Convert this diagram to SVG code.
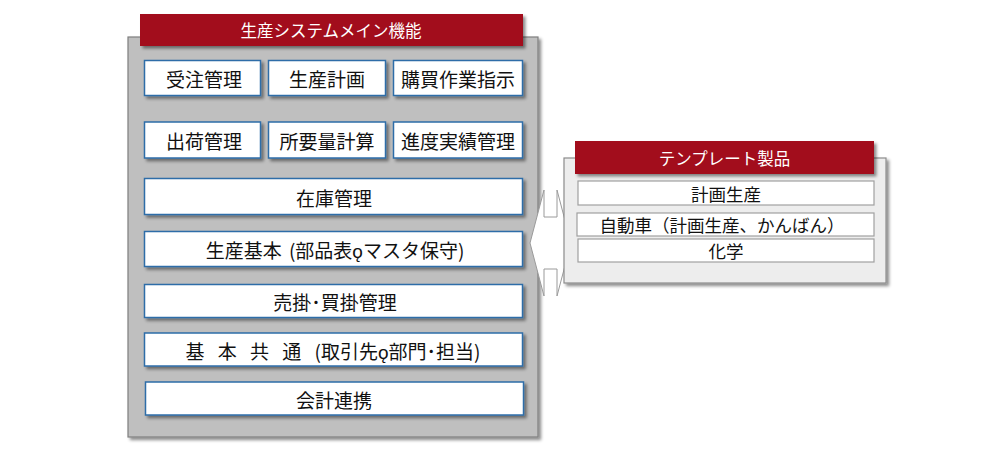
<svg xmlns="http://www.w3.org/2000/svg" width="1000" height="452" viewBox="0 0 1000 452">
<defs>
<filter id="sh" x="-10%" y="-10%" width="130%" height="130%">
<feDropShadow dx="2.5" dy="2.5" stdDeviation="1.6" flood-color="#000" flood-opacity="0.45"/>
</filter>
<style>
text{font-family:"Noto Sans CJK JP","Liberation Sans",sans-serif;text-anchor:middle;dominant-baseline:central}
.box{fill:#fff;stroke:#2E6DA8;stroke-width:1.5;filter:url(#sh)}
.t{font-size:19px;fill:#111}
.title{fill:#A20C1E;filter:url(#sh)}
.tt{font-size:16.5px;fill:#fff}
.rb{fill:#fff;stroke:#A0A0A0;stroke-width:1.2}
.rt{font-size:17.5px;fill:#111}
</style>
</defs>
<g id="main-panel">
<rect x="128" y="37" width="410" height="400" fill="#BFBFBF" stroke="#7F7F7F" stroke-width="1.2" filter="url(#sh)"/>
</g>
<g id="main-title">
<rect class="title" x="140" y="14" width="383" height="32"/>
<text class="tt" x="331" y="30">生産システムメイン機能</text>
</g>
<g id="n-juchu"><rect class="box" x="144.5" y="60.5" width="116" height="35"/><text class="t" x="204" y="78">受注管理</text></g>
<g id="n-keikaku"><rect class="box" x="268.5" y="60.5" width="117" height="35"/><text class="t" x="327" y="78">生産計画</text></g>
<g id="n-kobai"><rect class="box" x="393.5" y="60.5" width="129" height="35"/><text class="t" x="458" y="78">購買作業指示</text></g>
<g id="n-shukka"><rect class="box" x="144.5" y="122" width="116" height="36"/><text class="t" x="204" y="140">出荷管理</text></g>
<g id="n-shoyo"><rect class="box" x="268.5" y="122" width="117" height="36"/><text class="t" x="327" y="140">所要量計算</text></g>
<g id="n-shinchoku"><rect class="box" x="393.5" y="122" width="129" height="36"/><text class="t" x="458" y="140">進度実績管理</text></g>
<g id="n-zaiko"><rect class="box" x="144.5" y="178.5" width="378" height="36"/><text class="t" x="334" y="197">在庫管理</text></g>
<g id="n-kihon"><rect class="box" x="144.5" y="231.5" width="378" height="35"/><text class="t" x="335" y="249" style="word-spacing:3px">生産基本 (部品表ǫマスタ保守)</text></g>
<g id="n-urikake"><rect class="box" x="144.5" y="284.5" width="378" height="33"/><text class="t" x="335" y="301">売掛･買掛管理</text></g>
<g id="n-kyotsu"><rect class="box" x="144.5" y="333" width="378" height="33"/><text class="t" x="333" y="350" style="word-spacing:9px">基 本 共 通 (取引先ǫ部門･担当)</text></g>
<g id="n-kaikei"><rect class="box" x="145.5" y="382" width="378" height="33"/><text class="t" x="334" y="399">会計連携</text></g>
<g id="connectors">
<path d="M530,243 L544,190 L544,217 L557,217 L557,190 L571,243 L557,296 L557,269 L544,269 L544,296 Z" fill="#fff" stroke="#9A9A9A" stroke-width="1"/>
</g>
<g id="template-panel">
<rect x="564" y="158" width="322" height="125" fill="#EDEDED" stroke="#8C8C8C" stroke-width="1.2" filter="url(#sh)"/>
<rect class="title" x="575" y="141" width="299" height="33"/>
<text class="tt" x="724.5" y="157.5">テンプレート製品</text>
</g>
<g id="t-keikaku"><rect class="rb" x="578" y="181" width="296" height="24"/><text class="rt" x="726" y="193">計画生産</text></g>
<g id="t-jidosha"><rect class="rb" x="577" y="213" width="297" height="23"/><text class="rt" x="722" y="224.5">自動車（計画生産、かんばん）</text></g>
<g id="t-kagaku"><rect class="rb" x="578" y="239" width="296" height="23"/><text class="rt" x="726" y="250.5">化学</text></g>
</svg>
